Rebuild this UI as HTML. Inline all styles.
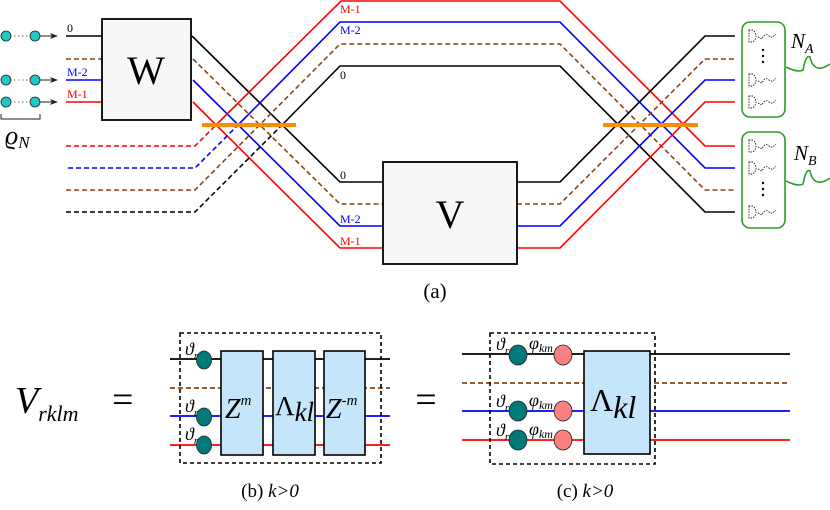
<!DOCTYPE html>
<html><head><meta charset="utf-8"><style>
html,body{margin:0;padding:0;background:#fff;}
svg{display:block;font-family:"Liberation Serif",serif;}
</style></head><body>
<svg width="830" height="510" viewBox="0 0 830 510" xmlns="http://www.w3.org/2000/svg">
<defs>
<g id="det"><path d="M0,-6 L0,6 L4,6 Q10,0 4,-6 Z M9,1 L13,3 Q16,-4 20,0 Q23,3 27,-2" fill="none" stroke="#222" stroke-width="0.9" stroke-dasharray="1.5,1.2"/></g>
<marker id="ar" markerWidth="8" markerHeight="6" refX="7" refY="3" orient="auto"><path d="M0,0 L8,3 L0,6 L2,3 Z" fill="#222"/></marker>
</defs>
<g fill="none" stroke-width="1.6">
<g stroke="#444" stroke-width="0.8" stroke-dasharray="1.5,2.5">
<line x1="6" y1="36" x2="35" y2="36"/><line x1="6" y1="80" x2="35" y2="80"/><line x1="6" y1="102" x2="35" y2="102"/></g>
<g stroke="#222" stroke-width="1" marker-end="url(#ar)">
<line x1="40" y1="36" x2="57" y2="36"/><line x1="40" y1="80" x2="57" y2="80"/><line x1="40" y1="102" x2="57" y2="102"/></g>
<path d="M1,114 L1,119 L40,119 L40,114" stroke="#222" stroke-width="1"/>
<line x1="66" y1="36" x2="102" y2="36" stroke="#000"/>
<line x1="66" y1="59" x2="102" y2="59" stroke="#8b4513" stroke-dasharray="5,3"/>
<line x1="66" y1="80" x2="102" y2="80" stroke="#00f"/>
<line x1="66" y1="102" x2="102" y2="102" stroke="#f00"/>
<polyline points="192,36 340,182 383,182" stroke="#000"/>
<polyline points="193,59 340,204 383,204" stroke="#8b4513" stroke-dasharray="5,3"/>
<polyline points="193,80 340,226 383,226" stroke="#00f"/>
<polyline points="193,102 340,248 383,248" stroke="#f00"/>
<polyline points="66,146 195,146 216,125" stroke="#f00" stroke-dasharray="5,3"/>
<polyline points="216,125 341,1 560,1 705,146 735,146" stroke="#f00"/>
<polyline points="68,168 195,168 238,125" stroke="#00f" stroke-dasharray="5,3"/>
<polyline points="238,125 340,22 560,22 705,168 735,168" stroke="#00f"/>
<polyline points="66,190 195,190 340,44 560,44 705,190 735,190" stroke="#8b4513" stroke-dasharray="5,3"/>
<polyline points="66,212 195,212 282,125" stroke="#000" stroke-dasharray="5,3"/>
<polyline points="282,125 340,66 560,66 705,212 735,212" stroke="#000"/>
<polyline points="517,182 560,182 705,36 735,36" stroke="#000"/>
<polyline points="517,204 560,204 705,59 735,59" stroke="#8b4513" stroke-dasharray="5,3"/>
<polyline points="517,226 560,226 705,80 735,80" stroke="#00f"/>
<polyline points="517,248 560,248 705,102 735,102" stroke="#f00"/>
<line x1="202" y1="125" x2="296" y2="125" stroke="#ff8c00" stroke-width="4"/>
<line x1="603" y1="125" x2="698" y2="125" stroke="#ff8c00" stroke-width="4"/>
<rect x="102" y="19" width="89" height="101" fill="#f7f7f7" stroke="#000" stroke-width="1.8"/>
<rect x="383" y="162" width="134" height="102" fill="#f7f7f7" stroke="#000" stroke-width="1.8"/>
<rect x="742" y="22" width="43" height="95" rx="8" stroke="#2a9d2a" stroke-width="1.6"/>
<rect x="742" y="132" width="43" height="96" rx="8" stroke="#2a9d2a" stroke-width="1.6"/>
<path d="M786,67 Q798,73 803,70 Q806,54 810,57 Q814,75 830,64" stroke="#2a9d2a"/>
<path d="M786,181 Q798,187 803,184 Q806,168 810,171 Q814,189 830,178" stroke="#2a9d2a"/>
</g>
<g fill="#20c8c8" stroke="#222" stroke-width="0.8">
<circle cx="6" cy="36" r="5"/><circle cx="35" cy="36" r="5"/>
<circle cx="6" cy="80" r="5"/><circle cx="35" cy="80" r="5"/>
<circle cx="6" cy="102" r="5"/><circle cx="35" cy="102" r="5"/></g>
<use href="#det" x="749" y="36"/><use href="#det" x="749" y="80"/><use href="#det" x="749" y="102"/>
<use href="#det" x="749" y="146"/><use href="#det" x="749" y="168"/><use href="#det" x="749" y="212"/>
<g fill="#000"><circle cx="763" cy="50" r="1.2"/><circle cx="763" cy="56" r="1.2"/><circle cx="763" cy="62" r="1.2"/>
<circle cx="763" cy="183" r="1.2"/><circle cx="763" cy="189" r="1.2"/><circle cx="763" cy="195" r="1.2"/></g>
<g font-size="12">
<text x="67" y="32">0</text>
<text x="67" y="76" fill="#00f">M-2</text>
<text x="67" y="98" fill="#f00">M-1</text>
<text x="340" y="13" fill="#f00">M-1</text>
<text x="340" y="34" fill="#00f">M-2</text>
<text x="340" y="79">0</text>
<text x="340" y="179">0</text>
<text x="340" y="223" fill="#00f">M-2</text>
<text x="340" y="245" fill="#f00">M-1</text>
</g>
<text x="146" y="84" font-size="40" text-anchor="middle">W</text>
<text x="450" y="228" font-size="40" text-anchor="middle">V</text>
<text x="5" y="144" font-size="26" font-style="italic">ϱ<tspan font-size="17" dy="4">N</tspan></text>
<text x="791" y="48" font-size="21" font-style="italic">N<tspan font-size="14" dy="5">A</tspan></text>
<text x="794" y="160" font-size="21" font-style="italic">N<tspan font-size="14" dy="5">B</tspan></text>
<text x="435" y="298" font-size="21" text-anchor="middle">(a)</text>
<text x="15" y="413" font-size="38" font-style="italic">V<tspan font-size="22" dy="8">rklm</tspan></text>
<text x="112" y="412" font-size="38">=</text>
<text x="426" y="412" font-size="38" text-anchor="middle">=</text>
<g fill="none" stroke-width="1.8">
<line x1="170" y1="359" x2="390" y2="359" stroke="#000"/>
<line x1="170" y1="388" x2="390" y2="388" stroke="#8b4513" stroke-dasharray="5,3"/>
<line x1="170" y1="416" x2="390" y2="416" stroke="#00f"/>
<line x1="170" y1="445" x2="390" y2="445" stroke="#f00"/>
<line x1="462" y1="354" x2="790" y2="354" stroke="#000"/>
<line x1="462" y1="383" x2="790" y2="383" stroke="#8b4513" stroke-dasharray="5,3"/>
<line x1="462" y1="411" x2="790" y2="411" stroke="#00f"/>
<line x1="462" y1="440" x2="790" y2="440" stroke="#f00"/>
</g>
<g fill="#c5e5fa" stroke="#000" stroke-width="1.6">
<rect x="221" y="351" width="42" height="104"/>
<rect x="273" y="351" width="42" height="104"/>
<rect x="324" y="351" width="41" height="104"/>
<rect x="584" y="351" width="66" height="103"/>
</g>
<g fill="#007a78" stroke="#222" stroke-width="0.8">
<ellipse cx="204" cy="360" rx="7.5" ry="9"/><ellipse cx="204" cy="417" rx="7.5" ry="9"/><ellipse cx="204" cy="445" rx="7.5" ry="9"/>
<ellipse cx="518" cy="355" rx="9" ry="10"/><ellipse cx="518" cy="411" rx="9" ry="10"/><ellipse cx="518" cy="440" rx="9" ry="10"/>
</g>
<g fill="#f88080" stroke="#222" stroke-width="0.8">
<ellipse cx="563" cy="355" rx="9" ry="10"/><ellipse cx="563" cy="411" rx="9" ry="10"/><ellipse cx="563" cy="440" rx="9" ry="10"/>
</g>
<g fill="none" stroke="#000" stroke-width="1.6" stroke-dasharray="4,3">
<rect x="180" y="333" width="201" height="130"/>
<rect x="490" y="333" width="165" height="131"/>
</g>
<g font-size="18" font-style="italic">
<text x="185" y="355">ϑ<tspan font-size="11" dy="4">r</tspan></text>
<text x="185" y="412">ϑ<tspan font-size="11" dy="4">r</tspan></text>
<text x="185" y="440">ϑ<tspan font-size="11" dy="4">r</tspan></text>
<text x="496" y="350">ϑ<tspan font-size="11" dy="4">r</tspan></text>
<text x="496" y="407">ϑ<tspan font-size="11" dy="4">r</tspan></text>
<text x="496" y="436">ϑ<tspan font-size="11" dy="4">r</tspan></text>
<text x="529" y="349">φ<tspan font-size="12" dy="3">km</tspan></text>
<text x="529" y="406">φ<tspan font-size="12" dy="3">km</tspan></text>
<text x="529" y="435">φ<tspan font-size="12" dy="3">km</tspan></text>
</g>
<text x="225" y="418" font-size="28" font-style="italic">Z<tspan font-size="15" dy="-13">m</tspan></text>
<text x="275" y="415" font-size="27">Λ<tspan font-style="italic" dy="6">kl</tspan></text>
<text x="326" y="418" font-size="28" font-style="italic">Z<tspan font-size="15" dy="-13">-m</tspan></text>
<text x="590" y="411" font-size="32">Λ<tspan font-style="italic" dy="7">kl</tspan></text>
<text x="270" y="497" font-size="19" text-anchor="middle">(b) <tspan font-style="italic">k&gt;0</tspan></text>
<text x="585" y="497" font-size="19" text-anchor="middle">(c) <tspan font-style="italic">k&gt;0</tspan></text>
</svg>
</body></html>
